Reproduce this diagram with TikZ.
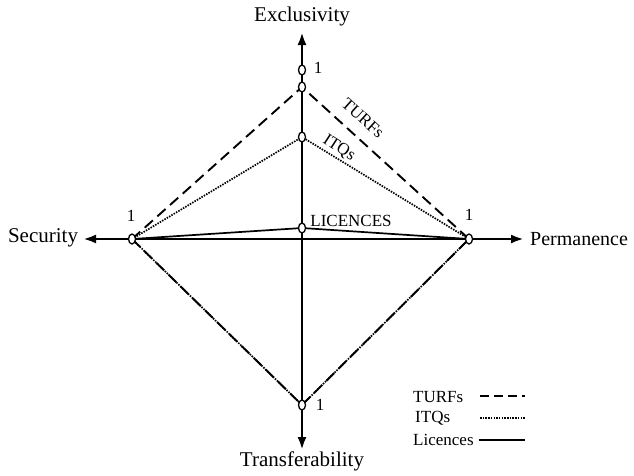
\documentclass[tikz,border=0pt]{standalone}
\usepackage{fontspec}
\setmainfont{Liberation Serif}
\usetikzlibrary{arrows.meta,shapes.geometric}
\begin{document}
\begin{tikzpicture}[x=1pt,y=-1pt,
  axis/.style={line width=2.8pt,-{Latex[length=13pt,width=9pt]}},
  big/.style={font=\fontsize{21}{24}\selectfont,inner sep=0pt},
  small/.style={font=\fontsize{17}{20}\selectfont,inner sep=0pt},
  mark1/.style={draw,fill=white,ellipse,minimum width=7pt,minimum height=10pt,inner sep=0pt,line width=1.3pt},
  turf/.style={line width=1.9pt,dash pattern=on 11pt off 6pt},
  itq/.style={line width=1.7pt,dash pattern=on 1.5pt off 1.2pt},
  lic/.style={line width=1.7pt}]
\useasboundingbox (0,0) rectangle (634,475);
% axis geometry
\coordinate (O) at (302,239);
\coordinate (tipL) at (83,239);
\coordinate (tipR) at (524,239);
\coordinate (tipT) at (302,32);
\coordinate (tipB) at (302,450);
% points
\coordinate (S) at (132,239);
\coordinate (P) at (469,239);
\coordinate (E1) at (302,70);
\coordinate (Et) at (302,87);
\coordinate (Ei) at (302,137);
\coordinate (El) at (302,228);
\coordinate (T1) at (302,405);
% axes
\draw[axis] (O) -- (tipL);
\draw[axis] (O) -- (tipR);
\draw[axis] (O) -- (tipT);
\draw[axis] (O) -- (tipB);
% axis labels
\node[big] (lsec) at (43,238) {Security};
\node[big,font=\fontsize{20}{24}\selectfont,anchor=west] (lper) at (530,239) {Permanence};
\node[big] (lexc) at (302,16) {Exclusivity};
\node[big] (ltra) at (302,461) {Transferability};
% profiles
\draw[turf] (S) -- (Et) -- (P);
\draw[itq] (S) -- (Ei) -- (P);
\draw[lic] (S) -- (El) -- (P);
\draw[turf] (S) -- (T1) -- (P);
\draw[itq] (S) -- (T1) -- (P);
% point markers
\node[mark1] (mS) at (S) {};
\node[mark1] (mP) at (P) {};
\node[mark1] (mE1) at (E1) {};
\node[mark1] (mEt) at (Et) {};
\node[mark1] (mEi) at (Ei) {};
\node[mark1] (mEl) at (El) {};
\node[mark1] (mT1) at (T1) {};
% value labels
\node[small] (nS) at (131,216) {1};
\node[small] (nP) at (469,215) {1};
\node[small] (nE) at (318,68) {1};
\node[small] (nT) at (320,405) {1};
% series labels
\node[small,rotate=-42] (lt) at (363,118) {TURFs};
\node[small,rotate=-33] (li) at (339,148) {ITQs};
\node[small] (ll) at (351,221) {LICENCES};
% legend
\node[small,anchor=west] (gT) at (413,397) {TURFs};
\node[small,anchor=west] (gI) at (415,418) {ITQs};
\node[small,anchor=west] (gL) at (413,440) {Licences};
\coordinate (gT1) at (480,396); \coordinate (gT2) at (525,396);
\coordinate (gI1) at (480,418); \coordinate (gI2) at (525,418);
\coordinate (gL1) at (479,440); \coordinate (gL2) at (525,440);
\draw[turf,dash pattern=on 9pt off 5pt] (gT1) -- (gT2);
\draw[itq] (gI1) -- (gI2);
\draw[lic,line width=2pt] (gL1) -- (gL2);
\end{tikzpicture}
\end{document}
